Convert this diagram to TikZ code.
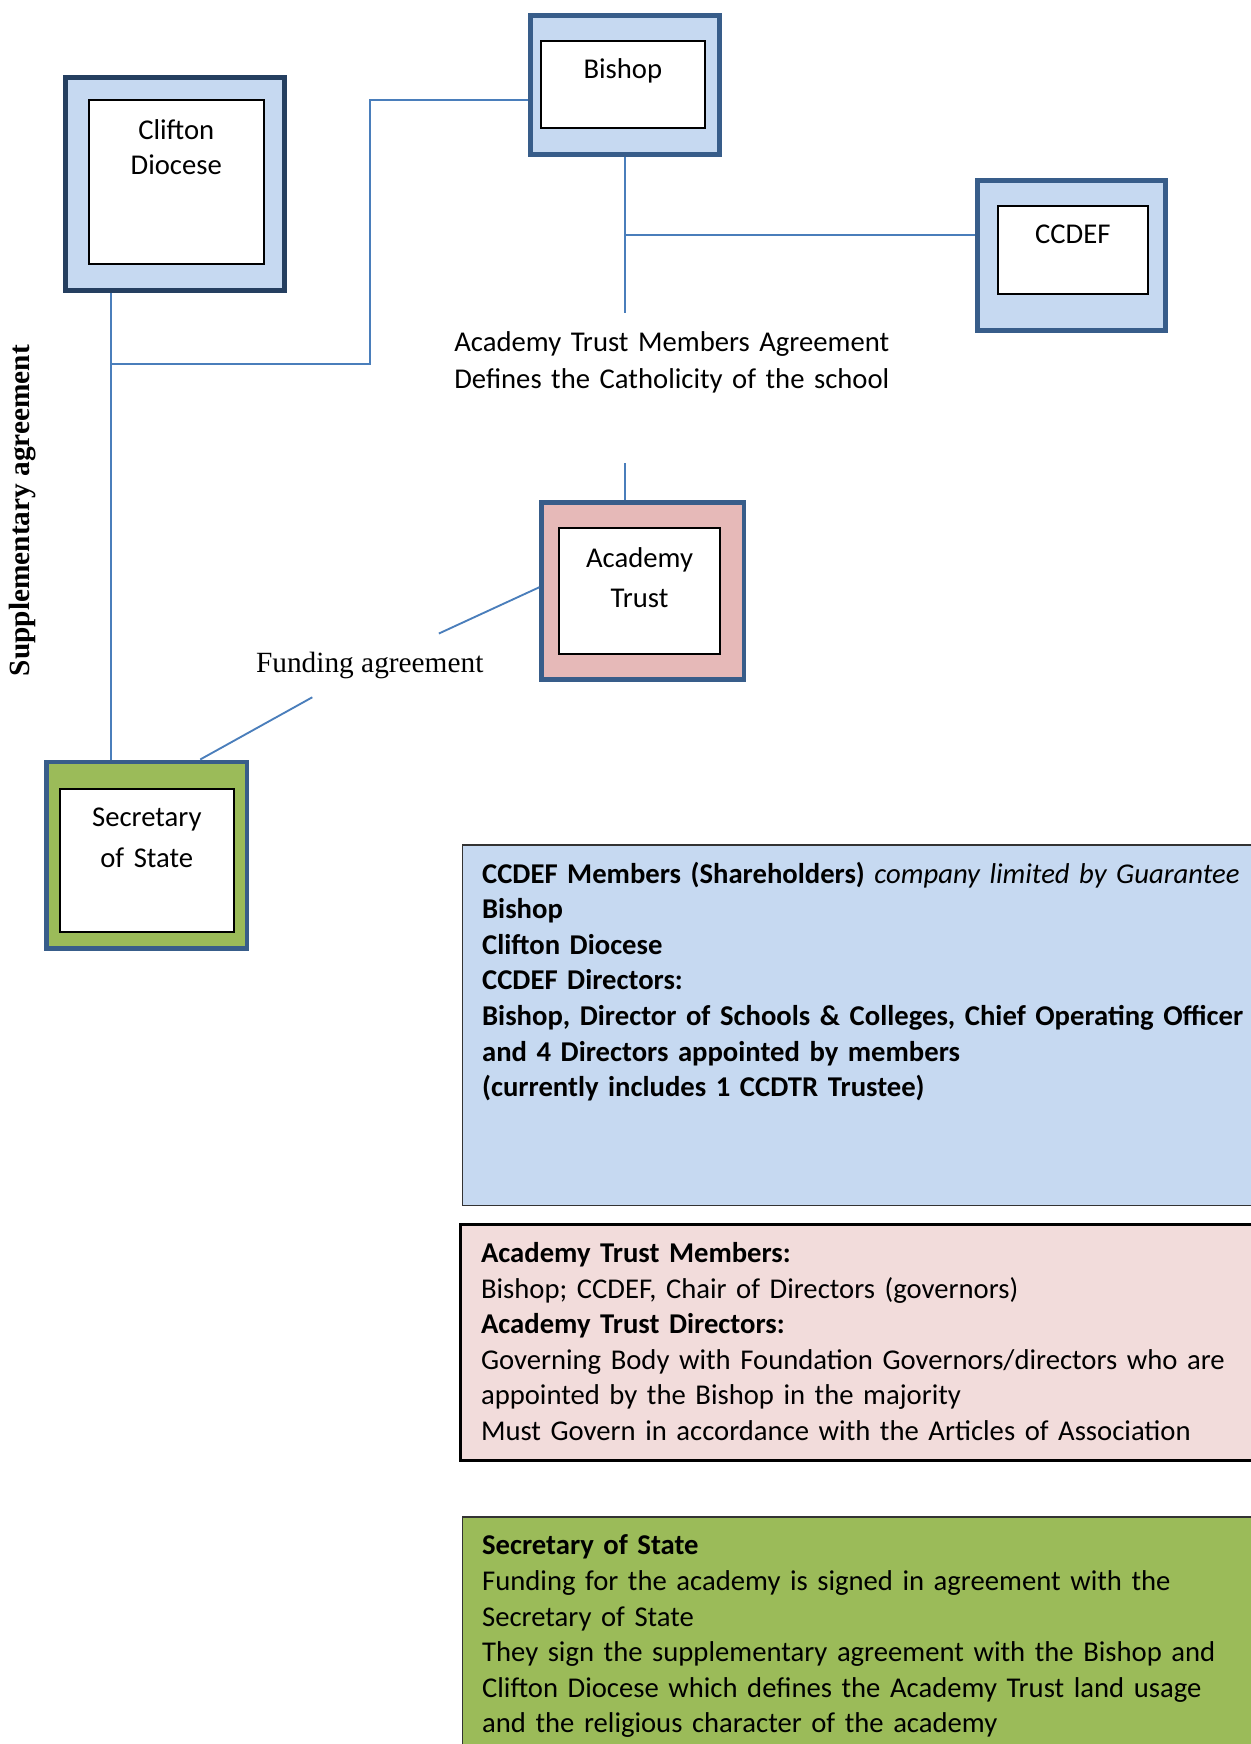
\documentclass[tikz,border=0pt]{standalone}
\usepackage{fontspec}
\setmainfont{Carlito}
\newfontfamily\timesfont{Liberation Serif}
\usetikzlibrary{calc, positioning}
\newcommand{\px}{0.41705pt}
\definecolor{paleblue}{HTML}{C6D9F1}
\definecolor{palerose}{HTML}{E6B9B8}
\definecolor{lightrose}{HTML}{F2DCDB}
\definecolor{olivegreen}{HTML}{9BBB59}
\definecolor{frameblue}{HTML}{385D8A}
\definecolor{darkframe}{HTML}{253F60}
\definecolor{linkblue}{HTML}{4A7EBB}

\begin{document}
\begin{tikzpicture}[x=\px, y=-\px,
	outerbox/.style={draw=frameblue, line width=1.8pt, inner sep=0pt},
	innerbox/.style={draw=black, fill=white, line width=0.75pt, inner sep=0pt},
	boxlabel/.style={anchor=base, align=center, inner sep=0pt, text width=140*\px,
		font=\fontsize{10.75}{13.35}\selectfont},
	link/.style={draw=linkblue, line width=0.7pt},
	panel/.style={anchor=north west, inner sep=0pt, minimum width=800*\px},
	paneltext/.style={anchor=base west, align=left, inner sep=0pt, text width=720*\px,
		font=\fontsize{10.75}{13.35}\selectfont},
	fundlabel/.style={font=\timesfont\fontsize{11}{13}\selectfont, inner xsep=2pt,
		inner ysep=6.5pt, text height=8pt, text depth=2.5pt},
	supplabel/.style={font=\timesfont\bfseries\fontsize{11}{13}\selectfont, rotate=90}]
\useasboundingbox (0,0) rectangle (1124,1568);
%========================
% Top: organisation boxes
%========================
	% Clifton Diocese
	\node[outerbox, draw=darkframe, fill=paleblue, minimum width=197*\px, minimum height=191*\px]
		(clifton) at (157.5,165.5) {};
	\node[innerbox, minimum width=157*\px, minimum height=147*\px] (clifton-in) at (158.5,163.5) {};
	\node[boxlabel] (clifton-t) at (158.5,125) {Clifton\\Diocese};
	
	% Bishop
	\node[outerbox, fill=paleblue, minimum width=170*\px, minimum height=125*\px]
		(bishop) at (562,76.5) {};
	\node[innerbox, minimum width=148*\px, minimum height=78*\px] (bishop-in) at (560,76) {};
	\node[boxlabel] (bishop-t) at (560,71) {Bishop};
	
	% CCDEF
	\node[outerbox, fill=paleblue, minimum width=169*\px, minimum height=135*\px]
		(ccdef) at (963.5,229.5) {};
	\node[innerbox, minimum width=135*\px, minimum height=79*\px] (ccdef-in) at (964.5,224.5) {};
	\node[boxlabel] (ccdef-t) at (964.5,219) {CCDEF};
	
	% Academy Trust
	\node[outerbox, fill=palerose, minimum width=182*\px, minimum height=159*\px]
		(academy) at (578,531.5) {};
	\node[innerbox, minimum width=144*\px, minimum height=113*\px] (academy-in) at (575,531.5) {};
	\node[boxlabel, font=\fontsize{10.75}{15}\selectfont] (academy-t) at (575,510) {Academy\\Trust};
	
	% Secretary of State
	\node[outerbox, fill=olivegreen, minimum width=180*\px, minimum height=168*\px]
		(sos) at (132,769) {};
	\node[innerbox, minimum width=156*\px, minimum height=129*\px] (sos-in) at (132,773.5) {};
	\node[boxlabel, font=\fontsize{10.75}{15.4}\selectfont] (sos-t) at (132,743) {Secretary\\of State};
	
	% agreement texts
	\node[paneltext, text width=500*\px, font=\fontsize{10.75}{13.7}\selectfont] (members-agr) at (408,316)
		{Academy Trust Members Agreement\\Defines the Catholicity of the school};
	\node[supplabel] (supp) at (20,459) {Supplementary agreement};
	
	% connectors
	\coordinate (cl-foot) at ([shift={(-57.5,0)}]clifton.south);
	\coordinate (ccdef-in-pt) at ([shift={(0,-18.5)}]ccdef.west);
	\coordinate (at-in) at ([shift={(0,-3.5)}]academy.west);
	\coordinate (sos-in-pt) at ([shift={(48,0)}]sos.north);
	\draw[link] ([shift={(0,13.5)}]bishop.west) -| (333,327) -- (cl-foot |- 0,327);
	\draw[link] (cl-foot) -- (cl-foot |- sos.north);
	\draw[link] (bishop.south) -- (bishop.south |- 0,281) coordinate (agree-top);
	\draw[link] (ccdef-in-pt -| bishop.south) -- (ccdef-in-pt);
	\draw[link] ([shift={(-16,0)}]academy.north) -- ++(0,-34);
	\node[fundlabel, yshift=3pt] (fund) at ($(at-in)!0.5!(sos-in-pt)$) {Funding agreement};
	\draw[link] (at-in) -- (fund);
	\draw[link] (fund) -- (sos-in-pt);

%========================
% Bottom: description panels
%========================
	\node[panel, draw=black!80, line width=0.6pt, fill=paleblue, minimum height=324*\px]
		(ccdef-panel) at (415,759) {};
	\node[paneltext] (ccdef-text) at (433,794)
		{\textbf{CCDEF Members (Shareholders)} \textit{company limited by Guarantee}\\
		\textbf{Bishop}\\
		\textbf{Clifton Diocese}\\
		\textbf{CCDEF Directors:}\\
		\textbf{Bishop, Director of Schools \& Colleges, Chief Operating Officer}\\
		\textbf{and 4 Directors appointed by members}\\
		\textbf{(currently includes 1 CCDTR Trustee)}};
	
	\node[panel, draw=black, line width=0.9pt, fill=lightrose, minimum height=212*\px]
		(at-panel) at (413,1100) {};
	\node[paneltext] (at-text) at (432,1135)
		{\textbf{Academy Trust Members:}\\
		Bishop; CCDEF, Chair of Directors (governors)\\
		\textbf{Academy Trust Directors:}\\
		Governing Body with Foundation Governors/directors who are\\
		appointed by the Bishop in the majority\\
		Must Govern in accordance with the Articles of Association};
	
	\node[panel, draw=black!80, line width=0.6pt, fill=olivegreen, minimum height=300*\px]
		(sos-panel) at (415,1363) {};
	\node[paneltext] (sos-text) at (433,1398)
		{\textbf{Secretary of State}\\
		Funding for the academy is signed in agreement with the\\
		Secretary of State\\
		They sign the supplementary agreement with the Bishop and\\
		Clifton Diocese which defines the Academy Trust land usage\\
		and the religious character of the academy};
\end{tikzpicture}
\end{document}
